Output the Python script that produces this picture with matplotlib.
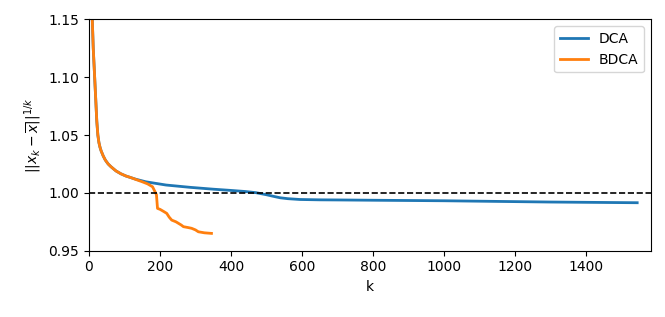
import matplotlib
matplotlib.use('Agg')
import matplotlib.pyplot as plt

# values
k_dca = [3, 6, 9.3, 12, 16, 19.5, 22, 25, 28, 31, 34, 40, 46, 54, 62, 76, 90, 104, 118, 132, 160, 217, 285, 350, 397, 440, 470, 500, 520, 538, 560, 594, 650, 700, 820, 1000, 1160, 1300, 1420, 1544]
v_dca = [1.40, 1.22, 1.15, 1.125, 1.10, 1.078, 1.062, 1.050, 1.0435, 1.0395, 1.0365, 1.0320, 1.0284, 1.0250, 1.0226, 1.0190, 1.0165, 1.0146, 1.0132, 1.0118, 1.0096, 1.0068, 1.0048, 1.0032, 1.0022, 1.0012, 1.0002, 0.9984, 0.9970, 0.9958, 0.9950, 0.9943, 0.9940, 0.9939, 0.9936, 0.9932, 0.9926, 0.9921, 0.9918, 0.9915]

k_bdca = [3, 6, 9.3, 12, 16, 19.5, 22, 25, 28, 31, 34, 40, 46, 54, 62, 76, 90, 104, 118, 132, 150, 165, 179, 186, 190, 193, 200, 210, 219, 226, 233, 245, 252, 260, 266, 280, 289, 300, 308, 325, 345]
v_bdca = [1.40, 1.22, 1.15, 1.125, 1.10, 1.078, 1.062, 1.050, 1.0435, 1.0395, 1.0365, 1.0320, 1.0284, 1.0250, 1.0226, 1.0190, 1.0165, 1.0146, 1.0132, 1.0116, 1.0096, 1.0078, 1.0053, 1.0010, 0.9985, 0.9866, 0.9858, 0.9840, 0.9823, 0.9790, 0.9765, 0.9750, 0.9737, 0.9722, 0.9708, 0.9700, 0.9694, 0.9680, 0.9664, 0.9655, 0.9650]

fig = plt.figure(figsize=(6.65, 3.17), dpi=100)
ax = fig.add_axes([0.1338, 0.209, 0.979 - 0.1338, 0.939 - 0.209])
ax.plot(k_dca, v_dca, lw=2, color='#1f77b4', label='DCA')
ax.plot(k_bdca, v_bdca, lw=2, color='#ff7f0e', label='BDCA')
ax.axhline(1.0, color='black', ls='--', lw=1.2)
ax.set_xlim(0, 1583)
ax.set_ylim(0.95, 1.15)
ax.set_yticks([0.95, 1.00, 1.05, 1.10, 1.15])
ax.set_xlabel('k')
ax.set_ylabel(r'$||x_k - \overline{x}||^{1/k}$')
ax.legend(loc='upper right')
fig.savefig('out.png', dpi=100)
